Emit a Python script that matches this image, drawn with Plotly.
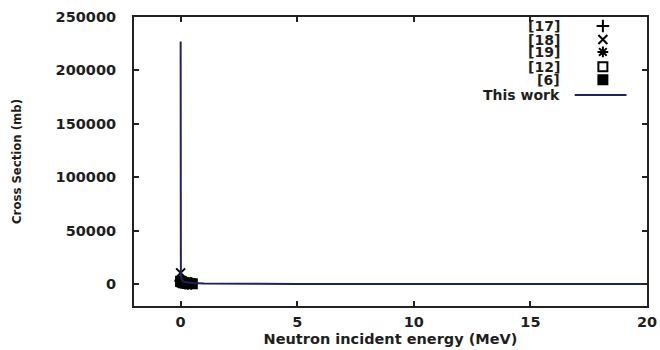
import plotly.graph_objects as go

# Evaluated cross section ("This work"), energies in MeV, cross sections in mb
work_E = [0.00001, 0.0001, 0.001, 0.01, 0.1, 0.5, 1.0, 2.0, 5.0, 10.0, 15.0, 20.0]
work_xs = [227000, 71800, 22700, 7180, 2270, 1000, 500, 300, 150, 80, 60, 50]

# Measured data sets
ref17_E = [0.0000253, 0.1, 0.2, 0.3, 0.45]
ref17_xs = [3200, 1500, 900, 700, 500]
ref18_E = [0.0000253, 0.05, 0.15, 0.35]
ref18_xs = [10500, 2500, 1200, 600]
ref19_E = [0.001, 0.08, 0.25, 0.5]
ref19_xs = [3000, 1800, 800, 450]
ref12_E = [0.01, 0.12, 0.28]
ref12_xs = [2500, 1300, 700]
ref6_E = [0.0000253, 0.03, 0.1, 0.2, 0.3, 0.4, 0.5]
ref6_xs = [2600, 2100, 1500, 1100, 800, 600, 400]

labels = ["[17]", "[18]", "[19]", "[12]", "[6]", "This work"]
symbols = ["cross-thin-open", "x-thin-open", "asterisk-open", "square-open", "square"]
sets = [(ref17_E, ref17_xs), (ref18_E, ref18_xs), (ref19_E, ref19_xs),
        (ref12_E, ref12_xs), (ref6_E, ref6_xs)]

x_ticks = [0, 5, 10, 15, 20]
y_ticks = [0, 50000, 100000, 150000, 200000, 250000]
y_tick_text = ["0", "50000", "100000", "150000", "200000", "250000"]

LINE = "#22225a"
FONT = "DejaVu Sans"
TXT = "#1e1e1e"

fig = go.Figure()

for (E, xs), sym, lab in zip(sets, symbols, labels):
    fig.add_trace(go.Scatter(
        x=E, y=xs, mode="markers", name=lab, showlegend=False,
        marker=dict(symbol=sym, size=9, color="black",
                    line=dict(color="black", width=2)),
    ))

fig.add_trace(go.Scatter(
    x=work_E, y=work_xs, mode="lines", name="This work", showlegend=False,
    line=dict(color=LINE, width=2),
))

# Key in the upper right: right-aligned labels with the sample to their right
key_y = [0.969, 0.922, 0.879, 0.828, 0.783, 0.73]
key_x_text = 0.832
key_x_sym = 0.914
for i, lab in enumerate(labels):
    fig.add_annotation(xref="paper", yref="paper", x=key_x_text, y=key_y[i],
                       text=lab, showarrow=False, xanchor="right", yanchor="middle",
                       borderpad=0,
                       font=dict(family=FONT, size=14, color=TXT, weight="bold"))
for i, sym in enumerate(symbols):
    fig.add_trace(go.Scatter(
        x=[key_x_sym], y=[key_y[i]], xaxis="x2", yaxis="y2", mode="markers",
        showlegend=False, hoverinfo="skip",
        marker=dict(symbol=sym, size=9, color="black",
                    line=dict(color="black", width=2)),
    ))
fig.add_trace(go.Scatter(
    x=[0.859, 0.96], y=[key_y[5], key_y[5]], xaxis="x2", yaxis="y2",
    mode="lines", showlegend=False, hoverinfo="skip",
    line=dict(color=LINE, width=2),
))

axis_common = dict(showline=True, linecolor="#222", linewidth=2, mirror="ticks",
                   ticks="inside", ticklen=5, tickwidth=1.5, tickcolor="#222",
                   showgrid=False, zeroline=False, automargin=False,
                   tickfont=dict(family=FONT, size=14.5, color=TXT, weight="bold"))

fig.update_layout(
    width=660, height=350,
    margin=dict(l=134, r=13, t=17, b=44),
    paper_bgcolor="white", plot_bgcolor="white",
    xaxis=dict(range=[-2, 20], tickvals=x_ticks, ticklabelstandoff=2,
               title=dict(text="Neutron incident energy (MeV)", standoff=4,
                          font=dict(family=FONT, size=14.5, color=TXT, weight="bold")),
               **axis_common),
    yaxis=dict(range=[-20500, 250000], tickvals=y_ticks, ticktext=y_tick_text,
               ticklabelstandoff=13,
               title=dict(text="Cross Section (mb)", standoff=31,
                          font=dict(family="DejaVu Sans Condensed", size=13, color=TXT,
                                    weight="bold")),
               **axis_common),
    xaxis2=dict(overlaying="x", range=[0, 1], visible=False),
    yaxis2=dict(overlaying="y", range=[0, 1], visible=False),
)

fig.write_html("out.html")
